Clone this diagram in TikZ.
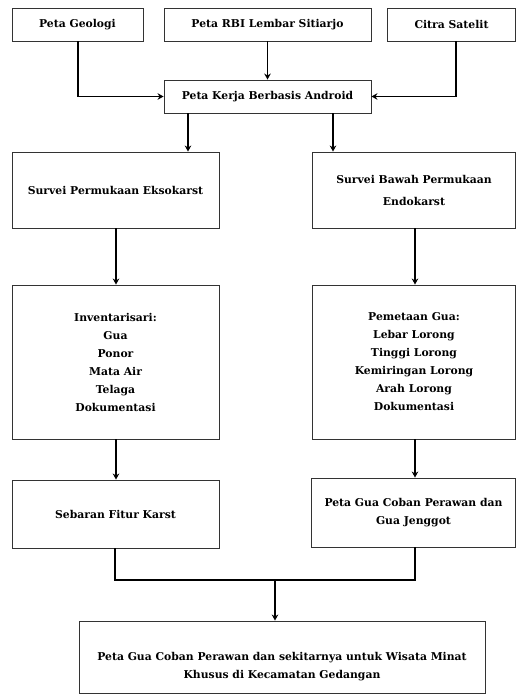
\documentclass[tikz,border=0pt]{standalone}
\usepackage{fontspec}
\setmainfont{DejaVu Serif}
\usetikzlibrary{arrows.meta}
\begin{document}
\begin{tikzpicture}[x=1pt,y=-1pt,
  box/.style={draw=black!80,line width=0.9pt,rectangle,inner sep=0pt,align=center,
    font=\fontsize{10.8}{18}\selectfont\bfseries},
  arr/.style={line width=1.5pt,-{Stealth[length=6pt,width=6.5pt]}},
  ln/.style={line width=1.5pt}]
\useasboundingbox (0,0) rectangle (516,695);
\node[box,minimum width=131pt,minimum height=33pt] (geo) at (77.5,24.5) {Peta Geologi};
\node[box,minimum width=207pt,minimum height=33pt] (rbi) at (267.5,24.5) {Peta RBI Lembar Sitiarjo};
\node[box,minimum width=128pt,minimum height=33pt] (cit) at (451.5,24.5) {Citra Satelit};
\node[box,minimum width=207pt,minimum height=33pt] (ker) at (267.5,96.5) {Peta Kerja Berbasis Android};
\node[box,minimum width=207pt,minimum height=76pt] (surp) at (115.5,190) {Survei Permukaan Eksokarst};
\node[box,minimum width=203pt,minimum height=76pt,font=\fontsize{10.8}{22}\selectfont\bfseries] (surb) at (414,190) {Survei Bawah Permukaan\\Endokarst};
\node[box,minimum width=207pt,minimum height=154pt] (inv) at (115.5,362) {Inventarisari:\\Gua\\Ponor\\Mata Air\\Telaga\\Dokumentasi};
\node[box,minimum width=203pt,minimum height=154pt] (pem) at (414,362) {Pemetaan Gua:\\Lebar Lorong\\Tinggi Lorong\\Kemiringan Lorong\\Arah Lorong\\Dokumentasi};
\node[box,minimum width=207pt,minimum height=68pt] (seb) at (115.5,514) {Sebaran Fitur Karst};
\node[box,minimum width=204pt,minimum height=69pt] (pgua) at (413.5,512.5) {Peta Gua Coban Perawan dan\\Gua Jenggot};
\node[box,minimum width=406pt,minimum height=72pt,text depth=0pt] (fin) at (282,657) {\raisebox{-8pt}{\parbox{406pt}{\centering\fontsize{10.8}{18}\selectfont\bfseries Peta Gua Coban Perawan dan sekitarnya untuk Wisata Minat\\Khusus di Kecamatan Gedangan}}};
\coordinate (j) at (275,580);
\draw[arr] (geo.south -| 78,0) |- (ker.west);
\draw[arr] (rbi.south) -- (ker.north);
\draw[arr] (cit.south -| 456,0) |- (ker.east);
\draw[arr] (ker.south -| 188,0) -- (surp.north -| 188,0);
\draw[arr] (ker.south -| 333,0) -- (surb.north -| 333,0);
\draw[arr] (surp.south -| 116,0) -- (inv.north -| 116,0);
\draw[arr] (surb.south -| 415,0) -- (pem.north -| 415,0);
\draw[arr] (inv.south -| 116,0) -- (seb.north -| 116,0);
\draw[arr] (pem.south -| 415,0) -- (pgua.north -| 415,0);
\draw[ln] (seb.south -| 115,0) |- (j) -| (pgua.south -| 415,0);
\draw[arr] (j) -- (fin.north -| j);
\end{tikzpicture}
\end{document}
